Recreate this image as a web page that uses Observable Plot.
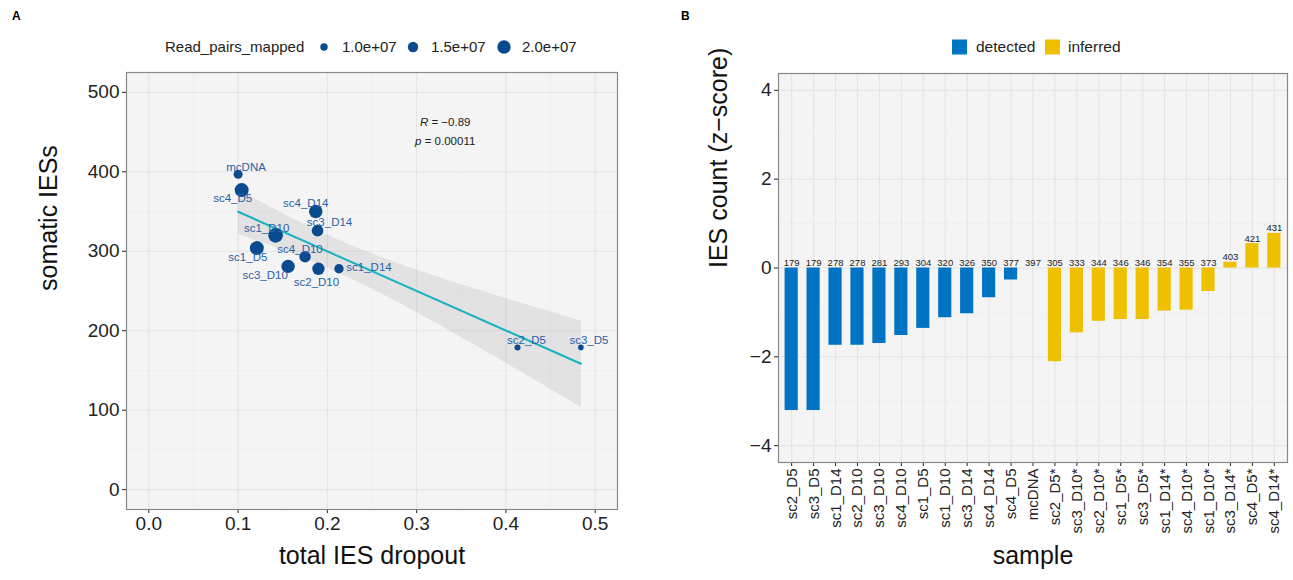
<!DOCTYPE html>
<html><head><meta charset="utf-8">
<script src="https://cdn.jsdelivr.net/npm/d3@7"></script>
<script src="https://cdn.jsdelivr.net/npm/@observablehq/plot@0.6"></script>
<style>
body{margin:0;background:#fff;font-family:"Liberation Sans",Arial,Helvetica,sans-serif;}
#wrap{position:relative;width:1293px;height:580px;overflow:hidden;background:#fff;}
#wrap svg{position:absolute;top:0;}
</style></head><body><div id="wrap"></div>
<script>
// ---------- Panel A data ----------
const samplesA = ["mcDNA","sc4_D5","sc4_D14","sc3_D14","sc1_D10","sc1_D5","sc4_D10","sc3_D10","sc2_D10","sc1_D14","sc2_D5","sc3_D5"];
const dropout = [0.100,0.104,0.187,0.189,0.142,0.121,0.175,0.156,0.190,0.213,0.413,0.484];
const somaticIES = [397,377,350,326,320,304,293,281,278,278,179,179];
const readPairs = [1.27e7,2.1e7,2.0e7,1.7e7,2.2e7,2.1e7,1.67e7,2.0e7,1.83e7,1.33e7,0.77e7,0.7e7];
const sizeLegendValues = [1.0e7,1.5e7,2.0e7];
const sizeLegendLabels = ["1.0e+07","1.5e+07","2.0e+07"];
const corrLetters = ["R","p"];
const corrValues = ["−0.89","0.00011"];
const xTicksA = [0,0.1,0.2,0.3,0.4,0.5];
const xMinorA = [0.05,0.15,0.25,0.35,0.45];
const yTicksA = [0,100,200,300,400,500];
const yMinorA = [50,150,250,350,450];

// ---------- Panel B data ----------
const samplesB = ["sc2_D5","sc3_D5","sc1_D14","sc2_D10","sc3_D10","sc4_D10","sc1_D5","sc1_D10","sc3_D14","sc4_D14","sc4_D5","mcDNA","sc2_D5*","sc3_D10*","sc2_D10*","sc1_D5*","sc3_D5*","sc1_D14*","sc4_D10*","sc1_D10*","sc3_D14*","sc4_D5*","sc4_D14*"];
const iesCounts = [179,179,278,278,281,293,304,320,326,350,377,397,305,333,344,346,346,354,355,373,403,421,431];
const zScores = [-3.21,-3.21,-1.74,-1.74,-1.70,-1.52,-1.36,-1.12,-1.03,-0.67,-0.27,0,-2.11,-1.46,-1.20,-1.16,-1.16,-0.97,-0.95,-0.53,0.13,0.55,0.78];
const groupsB = ["detected","detected","detected","detected","detected","detected","detected","detected","detected","detected","detected","detected","inferred","inferred","inferred","inferred","inferred","inferred","inferred","inferred","inferred","inferred","inferred"];
const groupNames = ["detected","inferred"];
const yTicksB = [-4,-2,0,2,4];
const yMinorB = [-3,-1,1,3];

// ---------- layout / style (not data) ----------
const FONT = '"Liberation Sans", Arial, Helvetica, sans-serif';
const labelOffsetsA = [[8,-7],[-9,8],[-10,-8],[12,-8],[-9,-7],[-9,9],[-5,-8],[-23,9],[-2,14],[30,-1],[9,-7],[8,-7]];
const ptColor = "#0A4A8F", labelColor = "#2A5FA8", lineColor = "#19B2C4";
const groupColors = ["#0073C2","#EFC000"];
const panelBg = "#F4F4F4", gridMajor = "#E4E4E4", gridMinor = "#ECECEC";
const minusFmt = d => d < 0 ? "\u2212" + Math.abs(d) : String(d);

const wrap = document.getElementById("wrap");

// ---------- Panel A ----------
const dataA = samplesA.map((s,i)=>({sample:s, x:dropout[i], y:somaticIES[i], reads:readPairs[i]}));
const plotA = Plot.plot({
  width: 640, height: 580,
  marginTop: 72, marginBottom: 71, marginLeft: 126, marginRight: 23,
  style: {fontFamily: FONT, background: "transparent", color: "#222"},
  x: {domain: [-0.025, 0.525]},
  y: {domain: [-25, 525]},
  r: {type: "linear", domain: [1e7, 2e7], range: [3.7, 6.7], clamp: false},
  marks: [
    Plot.frame({fill: panelBg}),
    Plot.ruleX(xMinorA, {stroke: gridMinor, strokeWidth: 0.6}),
    Plot.ruleY(yMinorA, {stroke: gridMinor, strokeWidth: 0.6}),
    Plot.ruleX(xTicksA, {stroke: gridMajor, strokeWidth: 1.1}),
    Plot.ruleY(yTicksA, {stroke: gridMajor, strokeWidth: 1.1}),
    Plot.linearRegressionY(dataA, {x: "x", y: "y", stroke: lineColor, strokeWidth: 2, fill: "#999", fillOpacity: 0.2, ci: 0.95}),
    Plot.dot(dataA, {x: "x", y: "y", r: "reads", fill: ptColor, stroke: null}),
    ...dataA.map((d,i)=>Plot.text([d], {x: "x", y: "y", text: "sample", dx: labelOffsetsA[i][0], dy: labelOffsetsA[i][1], fill: labelColor, fontSize: 11.5})),
    Plot.text(corrValues, {x: () => 0.332, y: (d,i) => [462, 438][i], text: (d,i) => corrLetters[i] + " = " + d, fontSize: 11.5, fill: "#222"}),
    Plot.axisX({ticks: xTicksA, tickFormat: d3.format(".1f"), tickSize: 4, tickPadding: 3, fontSize: 19, label: null}),
    Plot.axisY({ticks: yTicksA, tickSize: 4, tickPadding: 3, fontSize: 19, label: null}),
    Plot.text(["total IES dropout"], {frameAnchor: "bottom", dy: 54, fontSize: 25, fill: "#111"}),
    Plot.text(["somatic IESs"], {frameAnchor: "left", dx: -78, rotate: -90, fontSize: 25, fill: "#111"}),
    Plot.frame({stroke: "#888", strokeWidth: 1.2})
  ]
});
plotA.style.left = "0px";
wrap.appendChild(plotA);
// italic R / p
d3.select(plotA).selectAll("text").each(function(){
  const t = this.textContent;
  corrLetters.forEach((L,i)=>{
    if (t === L + " = " + corrValues[i]) {
      const el = d3.select(this); el.text(null);
      el.append("tspan").attr("font-style","italic").text(L);
      el.append("tspan").text(" = " + corrValues[i]);
    }
  });
});

// ---------- Panel B ----------
const dataB = samplesB.map((s,i)=>({sample:s, z:zScores[i], count:iesCounts[i], group:groupsB[i]}));
const plotB = Plot.plot({
  width: 653, height: 580,
  marginTop: 73, marginBottom: 118, marginLeft: 138, marginRight: 6,
  style: {fontFamily: FONT, background: "transparent", color: "#222"},
  x: {domain: samplesB, paddingInner: 0.4, paddingOuter: 0.3, round: false},
  y: {domain: [-4.38, 4.38]},
  color: {domain: groupNames, range: groupColors},
  marks: [
    Plot.frame({fill: panelBg}),
    Plot.ruleY(yMinorB, {stroke: gridMinor, strokeWidth: 0.6}),
    Plot.ruleY(yTicksB, {stroke: gridMajor, strokeWidth: 1.1}),
    Plot.ruleX(samplesB, {x: d => d, stroke: gridMajor, strokeWidth: 1.1}),
    Plot.barY(dataB.filter(d => d.z !== 0), {x: "sample", y1: 0, y2: "z", fill: "group"}),
    Plot.text(dataB, {x: "sample", y: d => Math.max(d.z, 0), text: d => String(d.count), lineAnchor: "bottom", dy: -2, fontSize: 9.5, fill: "#222"}),
    Plot.axisY({ticks: yTicksB, tickFormat: minusFmt, tickSize: 4, tickPadding: 3, fontSize: 19, label: null}),
    Plot.axisX({tickSize: 4, tickFormat: () => "", label: null}),
    Plot.text(samplesB, {x: d => d, frameAnchor: "bottom", rotate: -90, textAnchor: "end", dy: 6, dx: 5, fontSize: 15, fill: "#222"}),
    Plot.text(["sample"], {frameAnchor: "bottom", dy: 101, fontSize: 25, fill: "#111"}),
    Plot.text(["IES count (z\u2212score)"], {frameAnchor: "left", dx: -60, rotate: -90, fontSize: 25, fill: "#111"}),
    Plot.frame({stroke: "#888", strokeWidth: 1.2})
  ]
});
plotB.style.left = "640px";
wrap.appendChild(plotB);

// ---------- legends & panel letters ----------
const ov = d3.select(wrap).append("svg").attr("width",1293).attr("height",70)
  .style("left","0px").style("font-family",FONT);
ov.append("text").attr("x",12).attr("y",20).attr("font-weight","bold").attr("font-size",12).text("A");
ov.append("text").attr("x",681).attr("y",20).attr("font-weight","bold").attr("font-size",12).text("B");
const rScale = plotA.scale("r");
const ly = 47;
ov.append("text").attr("x",165).attr("y",ly).attr("dy","0.35em").attr("font-size",15).attr("fill","#222").text("Read_pairs_mapped");
const dotX = [324,413,504], labX = [342,431,522];
sizeLegendValues.forEach((v,i)=>{
  ov.append("circle").attr("cx",dotX[i]).attr("cy",ly).attr("r",rScale.apply(v)).attr("fill",ptColor);
  ov.append("text").attr("x",labX[i]).attr("y",ly).attr("dy","0.35em").attr("font-size",15).attr("fill","#222").text(sizeLegendLabels[i]);
});
const sqX = [952,1045], tX = [976,1068];
groupNames.forEach((g,i)=>{
  ov.append("rect").attr("x",sqX[i]).attr("y",ly-7.5).attr("width",15).attr("height",15).attr("fill",groupColors[i]);
  ov.append("text").attr("x",tX[i]).attr("y",ly).attr("dy","0.35em").attr("font-size",15.5).attr("fill","#222").text(g);
});
</script></body></html>
